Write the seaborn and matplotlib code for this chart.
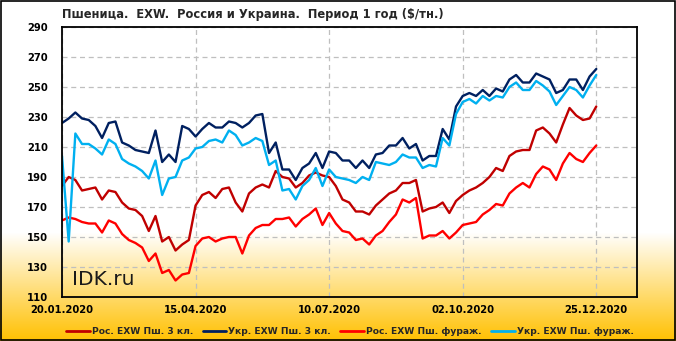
import numpy as np
import pandas as pd
import matplotlib
matplotlib.use('Agg')
import matplotlib.pyplot as plt
import seaborn as sns

# Values, one point roughly every 3 trading days
ros_3kl = [184, 190, 188, 181, 182, 183, 175, 181, 180, 173, 169, 168, 164, 154, 164, 147, 150,
           141, 145, 148, 171, 178, 180, 176, 182, 183, 173, 167, 179, 183, 185, 183,
           194, 190, 189, 183, 186, 191, 193, 191, 190, 184, 175, 173, 167, 167, 165, 171,
           175, 179, 181, 186, 186, 188, 167, 169, 170, 173, 166, 174, 178, 181, 183, 186,
           190, 196, 194, 204, 207, 208, 208, 221, 223, 219, 213, 225, 236, 231, 228, 229, 237]
ukr_3kl = [226, 229, 233, 229, 228, 224, 216, 226, 227, 213, 211, 208, 207, 206, 221, 200, 205,
           200, 224, 222, 217, 222, 226, 223, 223, 227, 226, 223, 226, 231, 232, 206,
           213, 195, 195, 188, 196, 199, 206, 196, 207, 206, 201, 201, 196, 201, 196, 205,
           206, 211, 211, 216, 209, 212, 201, 204, 204, 222, 215, 237, 244, 246, 244, 248,
           244, 249, 247, 255, 258, 253, 253, 259, 257, 255, 246, 248, 255, 255, 248, 257, 262]
ros_fur = [161, 163, 162, 160, 159, 159, 153, 161, 159, 152, 148, 146, 143, 134, 139, 126, 128,
           121, 125, 126, 144, 149, 150, 147, 149, 150, 150, 139, 151, 156, 158, 158,
           162, 162, 163, 157, 162, 165, 169, 158, 166, 159, 154, 153, 148, 149, 145, 151,
           154, 160, 165, 175, 173, 176, 149, 151, 151, 154, 149, 153, 158, 159, 160, 165,
           168, 172, 171, 179, 183, 186, 183, 192, 197, 195, 188, 199, 206, 202, 200, 206, 211]
ukr_fur = [204, 147, 219, 212, 212, 209, 205, 215, 212, 202, 199, 197, 194, 189, 201, 178, 189,
           190, 201, 203, 209, 210, 214, 215, 213, 221, 218, 211, 213, 216, 214, 198,
           201, 181, 182, 175, 184, 188, 196, 184, 195, 190, 189, 188, 186, 190, 188, 200,
           199, 198, 200, 205, 203, 203, 196, 198, 197, 216, 211, 232, 240, 242, 239, 244,
           241, 244, 243, 250, 253, 248, 248, 254, 251, 247, 238, 244, 250, 248, 243, 251, 258]

tick_labels = ['20.01.2020', '15.04.2020', '10.07.2020', '02.10.2020', '25.12.2020']
series_names = ['Рос. EXW Пш. 3 кл.', 'Укр. EXW Пш. 3 кл.',
                'Рос. EXW Пш. фураж.', 'Укр. EXW Пш. фураж.']
colors = ['#C00000', '#002060', '#FF0000', '#00B0F0']

# long table for seaborn
idx = np.arange(len(ros_3kl))
frames = []
for name, vals in zip(series_names, [ros_3kl, ukr_3kl, ros_fur, ukr_fur]):
    frames.append(pd.DataFrame({'idx': idx, 'price': vals, 'series': name}))
df = pd.concat(frames, ignore_index=True)

sns.set_style('white')
plt.rcParams['font.family'] = ['DejaVu Sans']

W, H = 676, 341
fig = plt.figure(figsize=(W / 100, H / 100), dpi=100)

# background: white fading into yellow at the bottom
bg = fig.add_axes([0, 0, 1, 1], zorder=0)
rows = np.arange(H)
t = np.clip((rows - 232) / (H - 232), 0, 1)[:, None]
top = np.array([1.0, 1.0, 1.0])
bot = np.array([1.0, 192 / 255, 0.0])
grad = (1 - t)[:, :, None] * top + t[:, :, None] * bot
grad = np.repeat(grad, 2, axis=1)
bg.imshow(grad, aspect='auto', extent=[0, 1, 0, 1], origin='upper')
bg.add_patch(plt.Rectangle((0.0008, 0.0015), 0.9984, 0.997, fill=False,
                           edgecolor='black', linewidth=1.2, transform=bg.transAxes))
bg.axis('off')

ax = fig.add_axes([62 / W, 1 - 297 / H, (637 - 62) / W, (297 - 27) / H], zorder=1)
ax.patch.set_alpha(0)

sns.lineplot(data=df, x='idx', y='price', hue='series', hue_order=series_names,
             palette=colors, linewidth=1.7, ax=ax, legend=True)

n_per_tick = 20
ax.set_xlim(0, 86.1)
ax.set_ylim(110, 290)
ax.set_yticks(np.arange(110, 291, 20))
ax.set_xticks(np.arange(len(tick_labels)) * n_per_tick)
ax.set_xticklabels(tick_labels)
ax.set_xlabel('')
ax.set_ylabel('')
ax.grid(True, color='#BFBFBF', linestyle=(0, (4, 3)), linewidth=0.9)
ax.tick_params(length=0, labelsize=7.2, colors='black')
ax.tick_params(axis='y', pad=10)
ax.tick_params(axis='x', pad=6)
for lab in ax.get_xticklabels() + ax.get_yticklabels():
    lab.set_fontweight('bold')
for sp in ax.spines.values():
    sp.set_color('black')
    sp.set_linewidth(1.3)

fig.text(62 / W, 1 - 14.5 / H, 'Пшеница.  EXW.  Россия и Украина.  Период 1 год ($/тн.)',
         fontsize=8.3, fontweight='bold', ha='left', va='center')
ax.text(0.017, 0.044, 'IDK.ru', transform=ax.transAxes, fontsize=14.5,
        color='#1a1a1a', ha='left', va='baseline')

handles, labels = ax.get_legend_handles_labels()
leg = ax.legend(handles, labels, ncol=4, loc='lower left',
                bbox_to_anchor=(63 / W, 2 / H, (637 - 63) / W, 21 / H),
                bbox_transform=fig.transFigure, mode='expand',
                frameon=True, fancybox=False, framealpha=0, edgecolor='black',
                prop={'size': 6.6, 'weight': 'bold'}, handlelength=2.6,
                handletextpad=0.2, columnspacing=0.8, borderpad=0.35,
                borderaxespad=0)
leg.get_frame().set_linewidth(1.0)
for h in leg.get_lines():
    h.set_linewidth(2.0)

fig.savefig('out.png', dpi=100)
